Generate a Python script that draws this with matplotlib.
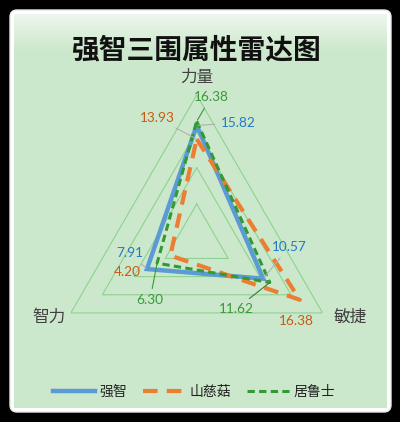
import numpy as np
import matplotlib
matplotlib.use("Agg")
import matplotlib.pyplot as plt
from matplotlib.patches import FancyBboxPatch

plt.rcParams['font.family'] = ['Noto Sans CJK SC', 'DejaVu Sans']

categories = ["力量", "敏捷", "智力"]
names = ["强智", "山慈菇", "居鲁士"]
qiangzhi = [15.82, 10.57, 7.91]
shancigu = [13.93, 16.38, 4.20]
julushi = [16.38, 11.62, 6.30]
rings = [5, 10, 15, 20]

W, H = 400, 422
fig = plt.figure(figsize=(W / 100, H / 100), dpi=100, facecolor="black")

# frame and green panel
bg = fig.add_axes([0, 0, 1, 1])
bg.set_xlim(0, W)
bg.set_ylim(H, 0)
bg.axis("off")
bg.add_patch(FancyBboxPatch((10, 10), 381, 402, boxstyle="round,pad=0,rounding_size=7",
                            fc="white", ec="#e8e8e8", lw=1))
grad = np.linspace(0, 1, 60)[:, None]
top = np.array([0.93, 0.97, 0.93])
base = np.array([0.80, 0.91, 0.80])
img = top + (base - top) * np.clip(grad * 1.6, 0, 1)[..., None]
img = np.repeat(img, 2, axis=1)
bg.imshow(np.concatenate([img, np.repeat(base[None, None, :], 2, axis=1).repeat(340, axis=0)]),
          extent=(14, 387, 408, 14), aspect="auto", zorder=1)

fig.text(0.49, 1 - 50 / H, "强智三围属性雷达图", ha="center", va="center",
         fontsize=20, fontweight="bold", color="#111111")

ax = fig.add_axes([0.1285, 0.0863, 0.7266, 0.6886], projection="polar")
ax.set_facecolor("none")
ax.set_theta_offset(np.pi / 2)
ax.set_theta_direction(-1)
ax.set_ylim(0, 20)
ax.grid(False)
ax.spines["polar"].set_visible(False)
ax.set_xticks([])
ax.set_yticks([])

angles = np.linspace(0, 2 * np.pi, len(categories), endpoint=False)
closed = np.append(angles, angles[0])

for r in rings:
    ax.plot(closed, [r] * 4, color="#8fd18f", lw=0.8, zorder=1)

styles = [
    dict(color="#5b9bd5", lw=3.2, ls="-"),
    dict(color="#ed7d31", lw=3.0, ls=(0, (3.5, 2.2))),
    dict(color="#339933", lw=2.2, ls=(0, (2.4, 1.4))),
]
series = [qiangzhi, shancigu, julushi]
lines = []
for vals, st, nm in zip(series, styles, names):
    v = np.append(vals, vals[0])
    ln, = ax.plot(closed, v, label=nm, zorder=3, solid_joinstyle="miter", **st)
    lines.append(ln)

# axis labels
fig.text(197 / W, 1 - 77 / H, "力量", ha="center", va="center", fontsize=12, color="#404040")
fig.text(350 / W, 1 - 317 / H, "敏捷", ha="center", va="center", fontsize=12, color="#404040")
fig.text(49 / W, 1 - 317 / H, "智力", ha="center", va="center", fontsize=12, color="#404040")

# data labels: text px position and leader colour
lab_colors = ["#2478c8", "#c85a14", "#3a9a3a"]
label_pos = {
    (0, 0): (238, 123, "#b0b0b0"),
    (1, 0): (157, 118, "#b0b0b0"),
    (2, 0): (211, 97, "#3a9a3a"),
    (0, 1): (289, 247, "#b0b0b0"),
    (1, 1): (296, 321, None),
    (2, 1): (236, 309, "#3a7a3a"),
    (0, 2): (130, 253, "#b0b0b0"),
    (1, 2): (127, 272, None),
    (2, 2): (150, 300, "#3a9a3a"),
}
for (si, ci), (px, py, lc) in label_pos.items():
    val = series[si][ci]
    kw = {}
    if lc is not None:
        kw["arrowprops"] = dict(arrowstyle="-", color=lc, lw=0.8, shrinkA=2, shrinkB=1)
    ax.annotate(f"{val:.2f}", xy=(angles[ci], val), xytext=(px, H - py),
                textcoords="figure pixels", ha="center", va="center",
                fontsize=9.8, family=["Lato", "DejaVu Sans"], color=lab_colors[si], zorder=4, **kw)

fig.legend(handles=lines, loc="center", bbox_to_anchor=(0.485, 1 - 392 / H), ncol=3,
           frameon=False, fontsize=10, handlelength=3.0, columnspacing=1.2, handletextpad=0.3,
           labelcolor="#222222")

fig.savefig("out.png", dpi=100, facecolor="black")
